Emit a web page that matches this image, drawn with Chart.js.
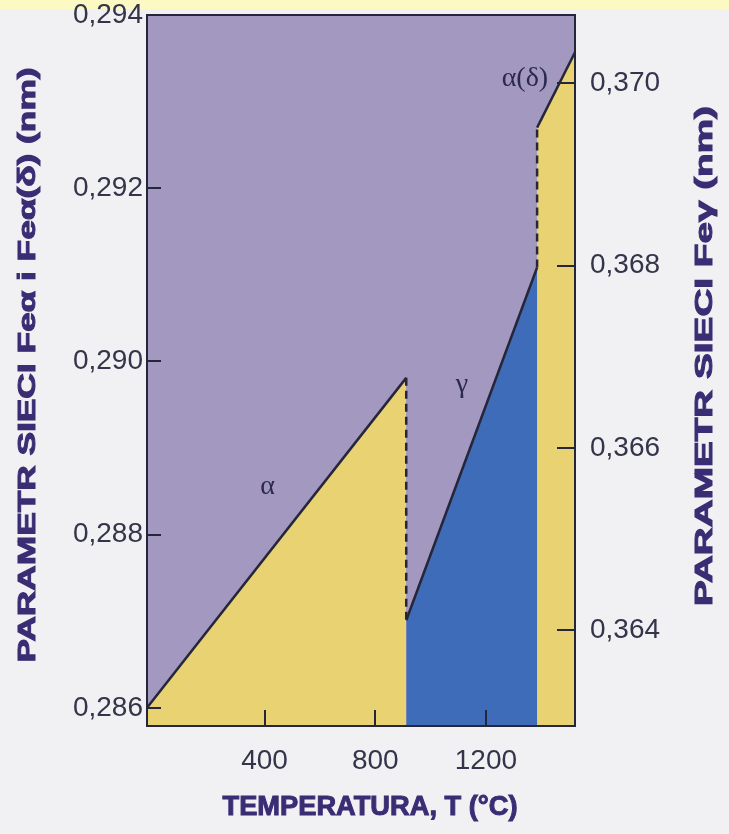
<!DOCTYPE html>
<html>
<head>
<meta charset="utf-8">
<script src="https://cdn.jsdelivr.net/npm/chart.js@4.4.0/dist/chart.umd.min.js"></script>
<style>
html, body { margin: 0; padding: 0; }
body { width: 729px; height: 834px; background: #f1f1f3; position: relative; overflow: hidden; }
#band { position: absolute; left: 0; top: 0; width: 729px; height: 9px; background: #fdf9c3; }
#wrap { position: absolute; left: 0; top: 0; }
</style>
</head>
<body>
<div id="band"></div>
<div id="wrap"><canvas id="ChartLattice" width="729" height="834"></canvas></div>
<script>
// tick labels
var tempTicks = [400, 800, 1200];
var leftTicks = [0.286, 0.288, 0.290, 0.292, 0.294];
var rightTicks = [0.364, 0.366, 0.368, 0.370];

// lattice parameter vs temperature
var alphaT = [-25, 912];
var alphaA = [0.2860, 0.28981];      // left axis
var gammaT = [912, 1385];
var gammaA = [0.36411, 0.36798];     // right axis
var deltaT = [1385, 1522];
var deltaA = [0.29270, 0.29357];     // left axis

// phase names, placed in data units (left axis)
var phaseNames = ['α', 'γ', 'α(δ)'];
var phaseT = [411, 1113, 1341];
var phaseA = [0.28855, 0.28973, 0.29327];

var purple = '#a298c0';
var yellow = '#e9d272';
var blue = '#3e6cb8';
var ink = '#26263a';
var labelColor = '#34344a';
var titleColor = '#3b2d74';

function pts(t, a) {
    return t.map(function (v, i) { return { x: v, y: a[i] }; });
}

function stretchText(c, text, cx, cy, len, rot) {
    c.save();
    c.translate(cx, cy);
    c.rotate(rot);
    var w = c.measureText(text).width;
    c.scale(len / w, 1);
    c.fillText(text, 0, 0);
    c.strokeText(text, 0, 0);
    c.restore();
}

var sheetPlugin = {
    id: 'sheet',
    beforeDatasetsDraw: function (chart) {
        var a = chart.chartArea, c = chart.ctx;
        c.save();
        c.fillStyle = purple;
        c.fillRect(a.left, a.top, a.right - a.left, a.bottom - a.top);
        c.restore();
    },
    afterDraw: function (chart) {
        var a = chart.chartArea, c = chart.ctx;
        var x = chart.scales.x, y = chart.scales.y, y2 = chart.scales.y2;
        c.save();
        // dashed jumps at the phase transitions
        c.strokeStyle = ink;
        c.lineWidth = 2.5;
        c.setLineDash([8, 5]);
        c.beginPath();
        c.moveTo(x.getPixelForValue(alphaT[1]), y.getPixelForValue(alphaA[1]));
        c.lineTo(x.getPixelForValue(gammaT[0]), y2.getPixelForValue(gammaA[0]));
        c.moveTo(x.getPixelForValue(gammaT[1]), y2.getPixelForValue(gammaA[1]));
        c.lineTo(x.getPixelForValue(deltaT[0]), y.getPixelForValue(deltaA[0]));
        c.stroke();
        c.setLineDash([]);
        // frame
        c.lineWidth = 2;
        c.strokeRect(a.left, a.top, a.right - a.left, a.bottom - a.top);
        // phase labels
        c.fillStyle = '#2b2950';
        c.font = '28px "Liberation Serif"';
        c.textAlign = 'center';
        c.textBaseline = 'middle';
        for (var i = 0; i < phaseNames.length; i++) {
            c.fillText(phaseNames[i], x.getPixelForValue(phaseT[i]), y.getPixelForValue(phaseA[i]));
        }
        // axis titles
        c.fillStyle = titleColor;
        c.strokeStyle = titleColor;
        c.lineWidth = 1;
        c.font = 'bold 24px "Liberation Sans"';
        stretchText(c, 'PARAMETR SIECI Feα i Feα(δ) (nm)', 28, 365, 595, -Math.PI / 2);
        stretchText(c, 'PARAMETR SIECI Feγ (nm)', 705, 356, 500, -Math.PI / 2);
        c.font = 'bold 27px "Liberation Sans"';
        stretchText(c, 'TEMPERATURA, T (°C)', 370, 808, 295, 0);
        c.restore();
    }
};

var tickFont = { family: 'Liberation Sans', size: 28 };

var ChartLattice = new Chart(document.getElementById('ChartLattice').getContext('2d'), {
    type: 'line',
    data: {
        datasets: [{
            label: 'alpha',
            data: pts(alphaT, alphaA),
            yAxisID: 'y',
            borderColor: ink,
            borderWidth: 2.5,
            backgroundColor: yellow,
            fill: 'start',
            pointRadius: 0
        }, {
            label: 'gamma',
            data: pts(gammaT, gammaA),
            yAxisID: 'y2',
            borderColor: ink,
            borderWidth: 2.5,
            backgroundColor: blue,
            fill: 'start',
            pointRadius: 0
        }, {
            label: 'delta',
            data: pts(deltaT, deltaA),
            yAxisID: 'y',
            borderColor: ink,
            borderWidth: 2.5,
            backgroundColor: yellow,
            fill: 'start',
            pointRadius: 0
        }]
    },
    options: {
        responsive: false,
        animation: false,
        layout: { padding: { top: 15, left: 0, right: 0, bottom: 0 } },
        plugins: {
            legend: { display: false },
            tooltip: { enabled: false }
        },
        scales: {
            x: {
                type: 'linear',
                min: -25,
                max: 1522,
                afterBuildTicks: function (s) { s.ticks = tempTicks.map(function (v) { return { value: v }; }); },
                afterFit: function (s) { s.height = 108; s.paddingLeft = 0; s.paddingRight = 0; },
                grid: { drawOnChartArea: false, tickLength: -16, color: ink, lineWidth: 2, z: 1 },
                border: { display: false },
                ticks: {
                    padding: 34, color: labelColor, font: tickFont, maxRotation: 0, autoSkip: false,
                    callback: function (v) { return String(v); }
                }
            },
            y: {
                position: 'left',
                min: 0.28579,
                max: 0.294,
                afterBuildTicks: function (s) { s.ticks = leftTicks.map(function (v) { return { value: v }; }); },
                afterFit: function (s) { s.width = 147; s.paddingTop = 0; s.paddingBottom = 0; },
                grid: { drawOnChartArea: false, tickLength: -14, color: ink, lineWidth: 2, z: 1 },
                border: { display: false },
                ticks: {
                    padding: 18, color: labelColor, font: tickFont, autoSkip: false,
                    callback: function (v) { return v.toFixed(3).replace('.', ','); }
                }
            },
            y2: {
                position: 'right',
                min: 0.36295,
                max: 0.37075,
                afterBuildTicks: function (s) { s.ticks = rightTicks.map(function (v) { return { value: v }; }); },
                afterFit: function (s) { s.width = 154; s.paddingTop = 0; s.paddingBottom = 0; },
                grid: { drawOnChartArea: false, tickLength: -18, color: ink, lineWidth: 2, z: 1 },
                border: { display: false },
                ticks: {
                    padding: 33, color: labelColor, font: tickFont, autoSkip: false,
                    callback: function (v) { return v.toFixed(3).replace('.', ','); }
                }
            }
        }
    },
    plugins: [sheetPlugin]
});
</script>
</body>
</html>
